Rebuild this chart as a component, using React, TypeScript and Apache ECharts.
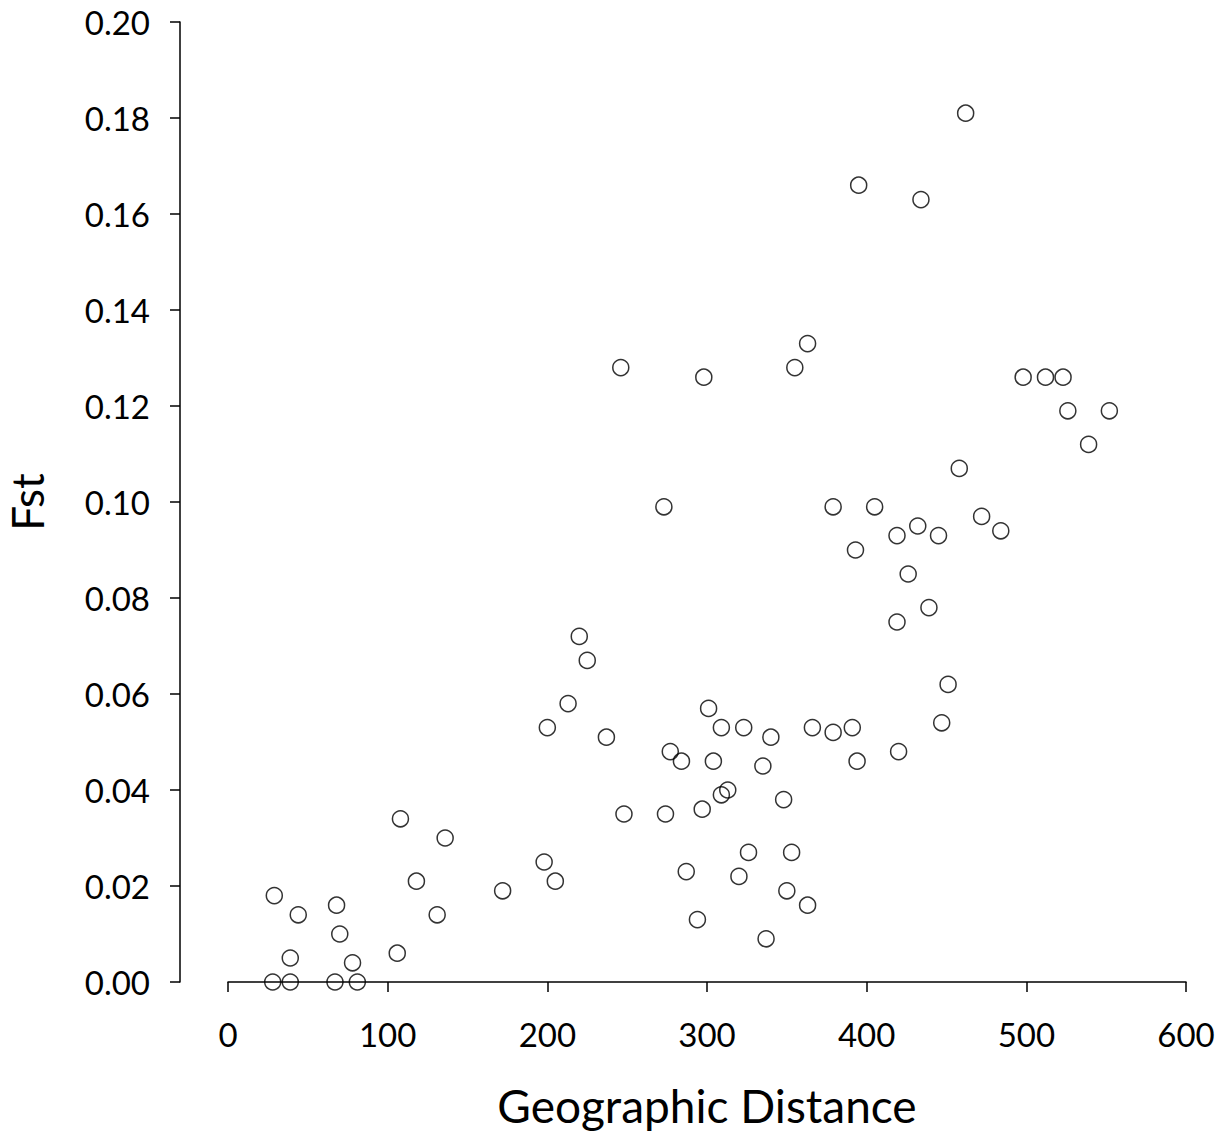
import React, { useEffect, useRef } from "react";
import * as echarts from "echarts";

const distance = [
  29, 28, 39, 39, 44, 68, 70, 67, 78, 81, 106, 108, 118, 131, 136, 172, 198, 205, 200, 213,
  220, 225, 237, 246, 248, 273, 274, 277, 284, 287, 294, 297, 301, 304, 309, 309, 313, 298,
  320, 323, 326, 335, 337, 340, 348, 350, 353, 355, 363, 363, 366, 379, 379, 391, 393, 394,
  395, 405, 419, 419, 420, 426, 432, 434, 439, 445, 447, 451, 458, 462, 472, 484, 498, 512,
  523, 526, 539, 552,
];
const fst = [
  0.018, 0.0, 0.0, 0.005, 0.014, 0.016, 0.01, 0.0, 0.004, 0.0, 0.006, 0.034, 0.021, 0.014,
  0.03, 0.019, 0.025, 0.021, 0.053, 0.058, 0.072, 0.067, 0.051, 0.128, 0.035, 0.099, 0.035,
  0.048, 0.046, 0.023, 0.013, 0.036, 0.057, 0.046, 0.053, 0.039, 0.04, 0.126, 0.022, 0.053,
  0.027, 0.045, 0.009, 0.051, 0.038, 0.019, 0.027, 0.128, 0.133, 0.016, 0.053, 0.052, 0.099,
  0.053, 0.09, 0.046, 0.166, 0.099, 0.093, 0.075, 0.048, 0.085, 0.095, 0.163, 0.078, 0.093,
  0.054, 0.062, 0.107, 0.181, 0.097, 0.094, 0.126, 0.126, 0.126, 0.119, 0.112, 0.119,
];
const xTicks = [0, 100, 200, 300, 400, 500, 600];
const yTicks = [0, 0.02, 0.04, 0.06, 0.08, 0.1, 0.12, 0.14, 0.16, 0.18, 0.2];

const FONT = "Lato";

export default function App() {
  const ref = useRef<HTMLDivElement>(null);
  useEffect(() => {
    document.body.style.margin = "0";
    const chart = echarts.init(ref.current!, null, { renderer: "svg" });
    const points = distance.map((d, i) => [d, fst[i]]);
    chart.setOption({
      animation: false,
      backgroundColor: "#fff",
      grid: {
        left: 228,
        right: 45,
        top: 22,
        bottom: 163,
        containLabel: false,
        outerBoundsMode: "none",
      },
      xAxis: {
        type: "value",
        min: xTicks[0],
        max: xTicks[xTicks.length - 1],
        interval: 100,
        name: "Geographic Distance",
        nameLocation: "middle",
        nameGap: 100,
        nameTextStyle: { fontFamily: FONT, fontSize: 46, color: "#000" },
        axisLine: { onZero: false, lineStyle: { color: "#000", width: 1.5 } },
        axisTick: { show: true, length: 10, lineStyle: { color: "#000", width: 1.5 } },
        axisLabel: { fontFamily: FONT, fontSize: 33, color: "#000", margin: 35 },
        splitLine: { show: false },
      },
      yAxis: {
        type: "value",
        min: yTicks[0],
        max: yTicks[yTicks.length - 1],
        interval: 0.02,
        offset: 48,
        name: "Fst",
        nameLocation: "middle",
        nameGap: 131,
        nameTextStyle: { fontFamily: FONT, fontSize: 44, lineHeight: 44, color: "#000" },
        axisLine: { show: true, onZero: false, lineStyle: { color: "#000", width: 1.5 } },
        axisTick: { show: true, length: 10, lineStyle: { color: "#000", width: 1.5 } },
        axisLabel: {
          fontFamily: FONT,
          fontSize: 33,
          color: "#000",
          margin: 30,
          formatter: (v: number) => v.toFixed(2),
        },
        splitLine: { show: false },
      },
      series: [
        {
          type: "scatter",
          data: points,
          symbol: "circle",
          symbolSize: 16,
          itemStyle: { color: "rgba(0,0,0,0)", borderColor: "#000", borderWidth: 1.5 },
        },
      ],
    });
    return () => chart.dispose();
  }, []);
  return <div ref={ref} style={{ width: 1231, height: 1145 }} />;
}
